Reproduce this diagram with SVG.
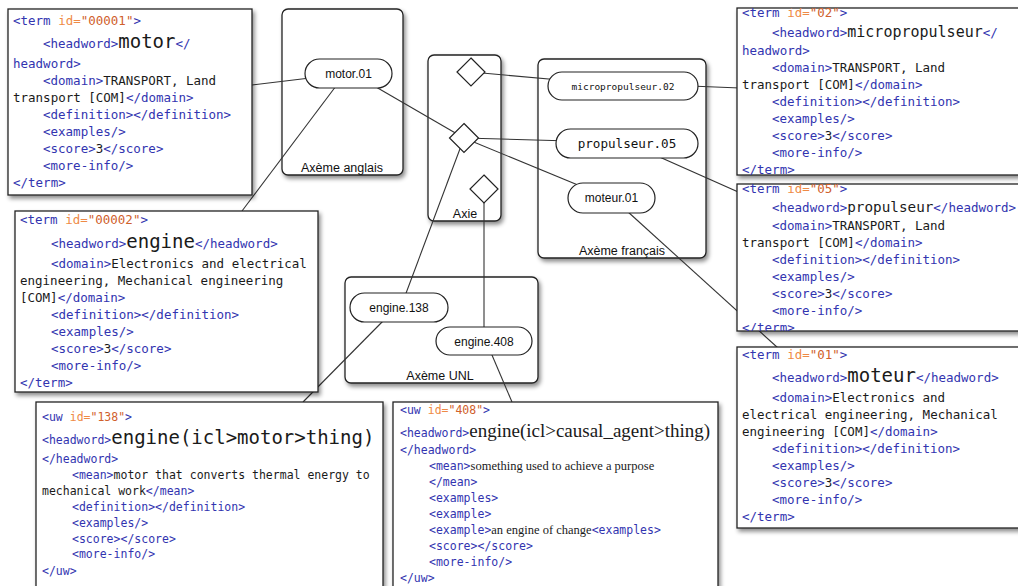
<svg xmlns="http://www.w3.org/2000/svg" width="1018" height="586" viewBox="0 0 1018 586">
<defs>
<filter id="sh" x="-10%" y="-10%" width="130%" height="130%">
<feDropShadow dx="2" dy="3" stdDeviation="2" flood-color="#000" flood-opacity="0.45"/>
</filter>
<clipPath id="cr1"><rect x="737" y="8" width="300" height="167"/></clipPath>
<clipPath id="cr2"><rect x="737" y="184" width="300" height="147"/></clipPath>
<clipPath id="cr3"><rect x="737" y="347" width="300" height="181"/></clipPath>
</defs>
<style>
.box{fill:#fff;stroke:#222;stroke-width:1.3;filter:url(#sh)}
.ax{fill:#fff;stroke:#222;stroke-width:1.3;filter:url(#sh)}
.pill{fill:#fff;stroke:#222;stroke-width:1.2}
.dia{fill:#fff;stroke:#222;stroke-width:1.2}
.m{font-family:"DejaVu Sans Mono","Liberation Mono",monospace;font-size:12.5px;fill:#1a1a1a}
.s{font-size:11.5px}
.t{fill:#3234b0}
.a{fill:#ef8a45}
.v{fill:#d0602c}
.big{font-size:19px}
.h15{font-size:15px}
.ser{font-family:"Liberation Serif","Times New Roman",serif}
.lbl{font-family:"Liberation Sans",Arial,sans-serif;font-size:12.5px;fill:#111;text-anchor:middle}
.pl{font-family:"Liberation Sans",Arial,sans-serif;font-size:12px;fill:#111;text-anchor:middle}
.pm{font-family:"DejaVu Sans Mono","Liberation Mono",monospace;fill:#111;text-anchor:middle}
.con{fill:none;stroke:#333;stroke-width:1.1}
</style>
<rect width="1018" height="586" fill="#fff"/>

<g id="axeme-anglais"><rect class="ax" x="282" y="9" width="121" height="166" rx="6"/><text class="lbl" x="342" y="172">Axème anglais</text></g>
<g id="axie"><rect class="ax" x="428" y="55" width="73" height="166" rx="6"/><text class="lbl" x="465" y="218">Axie</text></g>
<g id="axeme-francais"><rect class="ax" x="538" y="59" width="168" height="199" rx="6"/><text class="lbl" x="622" y="255">Axème français</text></g>
<g id="axeme-unl"><rect class="ax" x="345" y="277" width="193" height="106" rx="6"/><text class="lbl" x="440" y="380">Axème UNL</text></g>

<g id="connectors">
<line class="con" x1="252" y1="85" x2="310" y2="78"/>
<line class="con" x1="336" y1="86" x2="242" y2="211"/>
<line class="con" x1="376" y1="87" x2="464" y2="138"/>
<line class="con" x1="471" y1="72" x2="560" y2="80"/>
<line class="con" x1="464" y1="138" x2="570" y2="141"/>
<line class="con" x1="464" y1="138" x2="590" y2="190"/>
<line class="con" x1="464" y1="138" x2="405" y2="296"/>
<line class="con" x1="484" y1="189" x2="484" y2="330"/>
<line class="con" x1="385" y1="319" x2="303" y2="402"/>
<line class="con" x1="489" y1="348" x2="512" y2="402"/>
<line class="con" x1="690" y1="86" x2="740" y2="88"/>
<line class="con" x1="655" y1="155" x2="745" y2="195"/>
<line class="con" x1="627" y1="211" x2="778" y2="348"/>
</g>

<g id="motor01"><rect class="pill" x="305" y="59" width="87" height="29" rx="14.5"/><text class="pl" x="348.5" y="78">motor.01</text></g>
<g id="diamond-top"><polygon class="dia" points="471,58 485,72 471,86 457,72"/></g>
<g id="diamond-mid"><polygon class="dia" points="464,123.5 478.5,138 464,152.5 449.5,138"/></g>
<g id="diamond-bot"><polygon class="dia" points="484,175 498,189 484,203 470,189"/></g>
<g id="micropropulseur02"><rect class="pill" x="548" y="72" width="150" height="28" rx="14"/><text class="pm" x="623" y="89.5" font-size="9.5">micropropulseur.02</text></g>
<g id="propulseur05"><rect class="pill" x="556" y="129" width="142" height="29" rx="14.5"/><text class="pm" x="627" y="148" font-size="12.6">propulseur.05</text></g>
<g id="moteur01"><rect class="pill" x="568" y="183" width="87" height="30" rx="15"/><text class="pl" x="611.5" y="202">moteur.01</text></g>
<g id="engine138"><rect class="pill" x="350" y="293" width="98" height="29" rx="14.5"/><text class="pl" x="399" y="312" font-size="12.5">engine.138</text></g>
<g id="engine408"><rect class="pill" x="436" y="327" width="96" height="28" rx="14"/><text class="pl" x="484" y="345.5" font-size="12.5">engine.408</text></g>

<g id="term-00001">
<rect class="box" x="8" y="9" width="244" height="186"/>
<text class="m" x="13" y="25"><tspan class="t">&lt;term </tspan><tspan class="a">id=</tspan><tspan class="v">"00001"</tspan><tspan class="t">&gt;</tspan></text>
<text class="m" x="43" y="48"><tspan class="t">&lt;headword&gt;</tspan><tspan class="big">motor</tspan><tspan class="t">&lt;/</tspan></text>
<text class="m t" x="13" y="68">headword&gt;</text>
<text class="m" x="43" y="85"><tspan class="t">&lt;domain&gt;</tspan>TRANSPORT, Land</text>
<text class="m" x="13" y="102">transport [COM]<tspan class="t">&lt;/domain&gt;</tspan></text>
<text class="m t" x="43" y="119">&lt;definition&gt;&lt;/definition&gt;</text>
<text class="m t" x="43" y="136">&lt;examples/&gt;</text>
<text class="m" x="43" y="153"><tspan class="t">&lt;score&gt;</tspan>3<tspan class="t">&lt;/score&gt;</tspan></text>
<text class="m t" x="43" y="170">&lt;more-info/&gt;</text>
<text class="m t" x="13" y="187">&lt;/term&gt;</text>
</g>

<g id="term-00002">
<rect class="box" x="15" y="211" width="303" height="181"/>
<text class="m" x="20" y="224"><tspan class="t">&lt;term </tspan><tspan class="a">id=</tspan><tspan class="v">"00002"</tspan><tspan class="t">&gt;</tspan></text>
<text class="m" x="51" y="248"><tspan class="t">&lt;headword&gt;</tspan><tspan class="big">engine</tspan><tspan class="t">&lt;/headword&gt;</tspan></text>
<text class="m" x="51" y="268"><tspan class="t">&lt;domain&gt;</tspan>Electronics and electrical</text>
<text class="m" x="20" y="285">engineering, Mechanical engineering</text>
<text class="m" x="20" y="302">[COM]<tspan class="t">&lt;/domain&gt;</tspan></text>
<text class="m t" x="51" y="319">&lt;definition&gt;&lt;/definition&gt;</text>
<text class="m t" x="51" y="336">&lt;examples/&gt;</text>
<text class="m" x="51" y="353"><tspan class="t">&lt;score&gt;</tspan>3<tspan class="t">&lt;/score&gt;</tspan></text>
<text class="m t" x="51" y="370">&lt;more-info/&gt;</text>
<text class="m t" x="20" y="387">&lt;/term&gt;</text>
</g>

<g id="term-02">
<rect class="box" x="737" y="8" width="300" height="167"/>
<g clip-path="url(#cr1)">
<text class="m" x="742" y="17"><tspan class="t">&lt;term </tspan><tspan class="a">id=</tspan><tspan class="v">"02"</tspan><tspan class="t">&gt;</tspan></text>
<text class="m" x="772" y="37"><tspan class="t">&lt;headword&gt;</tspan><tspan class="h15">micropropulseur</tspan><tspan class="t">&lt;/</tspan></text>
<text class="m t" x="742" y="55">headword&gt;</text>
<text class="m" x="772" y="72"><tspan class="t">&lt;domain&gt;</tspan>TRANSPORT, Land</text>
<text class="m" x="742" y="89">transport [COM]<tspan class="t">&lt;/domain&gt;</tspan></text>
<text class="m t" x="772" y="106">&lt;definition&gt;&lt;/definition&gt;</text>
<text class="m t" x="772" y="123">&lt;examples/&gt;</text>
<text class="m" x="772" y="140"><tspan class="t">&lt;score&gt;</tspan>3<tspan class="t">&lt;/score&gt;</tspan></text>
<text class="m t" x="772" y="157">&lt;more-info/&gt;</text>
<text class="m t" x="742" y="174">&lt;/term&gt;</text>
</g>
</g>

<g id="term-05">
<rect class="box" x="737" y="184" width="300" height="147"/>
<g clip-path="url(#cr2)">
<text class="m" x="742" y="193"><tspan class="t">&lt;term </tspan><tspan class="a">id=</tspan><tspan class="v">"05"</tspan><tspan class="t">&gt;</tspan></text>
<text class="m" x="772" y="212"><tspan class="t">&lt;headword&gt;</tspan><tspan font-size="14.3">propulseur</tspan><tspan class="t">&lt;/headword&gt;</tspan></text>
<text class="m" x="772" y="230"><tspan class="t">&lt;domain&gt;</tspan>TRANSPORT, Land</text>
<text class="m" x="742" y="247">transport [COM]<tspan class="t">&lt;/domain&gt;</tspan></text>
<text class="m t" x="772" y="264">&lt;definition&gt;&lt;/definition&gt;</text>
<text class="m t" x="772" y="281">&lt;examples/&gt;</text>
<text class="m" x="772" y="298"><tspan class="t">&lt;score&gt;</tspan>3<tspan class="t">&lt;/score&gt;</tspan></text>
<text class="m t" x="772" y="315">&lt;more-info/&gt;</text>
<text class="m t" x="742" y="332">&lt;/term&gt;</text>
</g>
</g>

<g id="term-01">
<rect class="box" x="737" y="347" width="300" height="181"/>
<g clip-path="url(#cr3)">
<text class="m" x="742" y="359"><tspan class="t">&lt;term </tspan><tspan class="a">id=</tspan><tspan class="v">"01"</tspan><tspan class="t">&gt;</tspan></text>
<text class="m" x="772" y="382"><tspan class="t">&lt;headword&gt;</tspan><tspan class="big">moteur</tspan><tspan class="t">&lt;/headword&gt;</tspan></text>
<text class="m" x="772" y="402"><tspan class="t">&lt;domain&gt;</tspan>Electronics and</text>
<text class="m" x="742" y="419">electrical engineering, Mechanical</text>
<text class="m" x="742" y="436">engineering [COM]<tspan class="t">&lt;/domain&gt;</tspan></text>
<text class="m t" x="772" y="453">&lt;definition&gt;&lt;/definition&gt;</text>
<text class="m t" x="772" y="470">&lt;examples/&gt;</text>
<text class="m" x="772" y="487"><tspan class="t">&lt;score&gt;</tspan>3<tspan class="t">&lt;/score&gt;</tspan></text>
<text class="m t" x="772" y="504">&lt;more-info/&gt;</text>
<text class="m t" x="742" y="521">&lt;/term&gt;</text>
</g>
</g>

<g id="uw-138">
<rect class="box" x="36" y="402" width="347" height="200"/>
<text class="m s" x="42" y="421"><tspan class="t">&lt;uw </tspan><tspan class="a">id=</tspan><tspan class="v">"138"</tspan><tspan class="t">&gt;</tspan></text>
<text class="m s" x="42" y="444"><tspan class="t">&lt;headword&gt;</tspan><tspan class="big">engine(icl&gt;motor&gt;thing)</tspan></text>
<text class="m s t" x="42" y="463">&lt;/headword&gt;</text>
<text class="m s" x="72" y="479"><tspan class="t">&lt;mean&gt;</tspan>motor that converts thermal energy to</text>
<text class="m s" x="42" y="495">mechanical work<tspan class="t">&lt;/mean&gt;</tspan></text>
<text class="m s t" x="72" y="511">&lt;definition&gt;&lt;/definition&gt;</text>
<text class="m s t" x="72" y="527">&lt;examples/&gt;</text>
<text class="m s t" x="72" y="543">&lt;score&gt;&lt;/score&gt;</text>
<text class="m s t" x="72" y="558">&lt;more-info/&gt;</text>
<text class="m s t" x="42" y="575">&lt;/uw&gt;</text>
</g>

<g id="uw-408">
<rect class="box" x="393" y="402" width="325" height="200"/>
<text class="m s" x="400" y="414"><tspan class="t">&lt;uw </tspan><tspan class="a">id=</tspan><tspan class="v">"408"</tspan><tspan class="t">&gt;</tspan></text>
<text class="m s" x="400" y="437"><tspan class="t">&lt;headword&gt;</tspan><tspan class="ser" font-size="19">engine(icl&gt;causal_agent&gt;thing)</tspan></text>
<text class="m s t" x="400" y="454">&lt;/headword&gt;</text>
<text class="m s" x="429" y="470"><tspan class="t">&lt;mean&gt;</tspan><tspan class="ser" font-size="12.5">something used to achieve a purpose</tspan></text>
<text class="m s t" x="429" y="486">&lt;/mean&gt;</text>
<text class="m s t" x="429" y="502">&lt;examples&gt;</text>
<text class="m s t" x="429" y="518">&lt;example&gt;</text>
<text class="m s" x="429" y="534"><tspan class="t">&lt;example&gt;</tspan><tspan class="ser" font-size="12.5">an engine of change</tspan><tspan class="t">&lt;examples&gt;</tspan></text>
<text class="m s t" x="429" y="550">&lt;score&gt;&lt;/score&gt;</text>
<text class="m s t" x="429" y="566">&lt;more-info/&gt;</text>
<text class="m s t" x="400" y="582">&lt;/uw&gt;</text>
</g>
</svg>
